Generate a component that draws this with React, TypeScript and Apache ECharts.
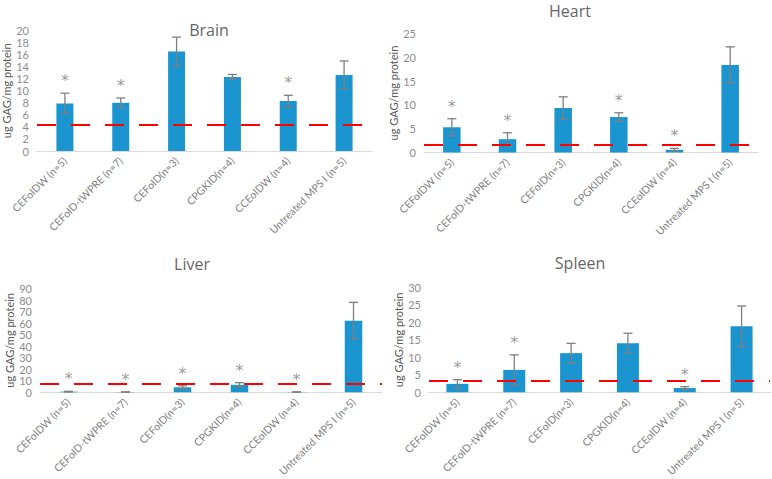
import React, { useEffect, useRef } from "react";
import * as echarts from "echarts";

const categories = [
  "CEFoIDW (n=5)",
  "CEFoID-tWPRE (n=7)",
  "CEFoID(n=3)",
  "CPGKID(n=4)",
  "CCEoIDW (n=4)",
  "Untreated MPS I (n=5)",
];

const panelTitles = ["Brain", "Heart", "Liver", "Spleen"];
const yAxisName = "ug GAG/mg protein";

const brainMean = [7.9, 8.0, 16.5, 12.3, 8.3, 12.6];
const brainErr = [1.7, 0.8, 2.4, 0.4, 0.95, 2.35];
const brainRef = 4.3;
const brainSig = [true, true, false, false, true, false];

const heartMean = [5.3, 2.8, 9.35, 7.45, 0.57, 18.4];
const heartErr = [1.8, 1.35, 2.35, 0.9, 0.3, 3.8];
const heartRef = 1.6;
const heartSig = [true, true, false, true, true, false];

const liverMean = [0.5, 0.2, 4.3, 6.4, 0.2, 62];
const liverErr = [0.3, 0.1, 1.3, 1.9, 0.1, 16];
const liverRef = 7.0;
const liverSig = [true, true, true, true, true, false];

const spleenMean = [2.4, 6.4, 11.2, 14.05, 1.2, 18.9];
const spleenErr = [1.2, 4.3, 2.8, 2.85, 0.4, 5.8];
const spleenRef = 3.35;
const spleenSig = [true, true, false, false, true, false];

const yMax = [20, 25, 90, 30];
const yInterval = [2, 5, 10, 5];

const FONT = "Lato, 'Open Sans', sans-serif";
const BAR = "#1b95d0";
const GREY = "#7f7f7f";

export default function App() {
  const ref = useRef<HTMLDivElement>(null);

  useEffect(() => {
    if (!ref.current) return;
    const chart = echarts.init(ref.current, null, { renderer: "svg" });

    const panels = [
      { mean: brainMean, err: brainErr, refV: brainRef, sig: brainSig },
      { mean: heartMean, err: heartErr, refV: heartRef, sig: heartSig },
      { mean: liverMean, err: liverErr, refV: liverRef, sig: liverSig },
      { mean: spleenMean, err: spleenErr, refV: spleenRef, sig: spleenSig },
    ];

    const grids = [
      { left: 37, right: 400, top: 30.5, bottom: 328 },
      { left: 424, right: 14, top: 33.5, bottom: 326.5 },
      { left: 40, right: 390, top: 288.5, bottom: 80.5 },
      { left: 429, right: 2, top: 287.5, bottom: 81 },
    ];
    const titlePos = [
      { left: 209, top: 22 },
      { left: 570, top: 3 },
      { left: 192, top: 256 },
      { left: 580, top: 255 },
    ];
    const nameGaps = [20, 21, 21, 23];
    const barWidths = [17, 17.5, 17.5, 22];

    const errRender = (params: any, api: any) => {
      const x = api.value(0);
      const lo = api.value(1);
      const hi = api.value(2);
      const pLo = api.coord([x, lo]);
      const pHi = api.coord([x, hi]);
      const w = 4.5;
      const style = { stroke: GREY, lineWidth: 1.3 };
      return {
        type: "group",
        children: [
          { type: "line", shape: { x1: pHi[0], y1: pHi[1], x2: pLo[0], y2: pLo[1] }, style },
          { type: "line", shape: { x1: pHi[0] - w, y1: pHi[1], x2: pHi[0] + w, y2: pHi[1] }, style },
          { type: "line", shape: { x1: pLo[0] - w, y1: pLo[1], x2: pLo[0] + w, y2: pLo[1] }, style },
        ],
      };
    };

    const series: any[] = [];
    panels.forEach((p, k) => {
      series.push({
        type: "bar",
        xAxisIndex: k,
        yAxisIndex: k,
        data: p.mean,
        barWidth: barWidths[k],
        itemStyle: { color: BAR },
        z: 2,
        markLine: {
          silent: true,
          symbol: ["none", "none"],
          label: { show: false },
          lineStyle: { color: "#ff0000", width: 2, type: [19, 15] },
          data: [{ yAxis: p.refV }],
          z: 5,
        },
      });
      series.push({
        type: "custom",
        xAxisIndex: k,
        yAxisIndex: k,
        renderItem: errRender,
        data: p.mean.map((m, i) => [i, m - p.err[i], m + p.err[i]]),
        z: 4,
      });
      series.push({
        type: "scatter",
        xAxisIndex: k,
        yAxisIndex: k,
        symbolSize: 1,
        itemStyle: { color: "rgba(0,0,0,0)" },
        data: p.mean
          .map((m, i) => (p.sig[i] ? [i, m + p.err[i]] : null))
          .filter((d) => d !== null),
        label: {
          show: true,
          formatter: "*",
          position: "top",
          distance: 4,
          fontSize: 16,
          lineHeight: 16,
          color: GREY,
          fontFamily: "'DejaVu Sans', sans-serif",
        },
        z: 6,
      });
    });

    const option: any = {
      animation: false,
      backgroundColor: "#ffffff",
      title: panelTitles.map((t, k) => ({
        text: t,
        left: titlePos[k].left,
        top: titlePos[k].top,
        padding: 0,
        textAlign: "center",
        textStyle: {
          fontSize: 16,
          lineHeight: 16,
          fontWeight: 400,
          color: "#666666",
          fontFamily: "'Open Sans', sans-serif",
        },
      })),
      grid: grids,
      xAxis: grids.map((_, k) => ({
        type: "category",
        gridIndex: k,
        data: categories,
        axisLine: { lineStyle: { color: "#d9d9d9", width: 1 } },
        axisTick: { show: false },
        axisLabel: {
          rotate: 45,
          interval: 0,
          fontSize: 10.5,
          color: "#808080",
          fontFamily: FONT,
          margin: 8,
        },
      })),
      yAxis: grids.map((_, k) => ({
        type: "value",
        gridIndex: k,
        min: 0,
        max: yMax[k],
        interval: yInterval[k],
        name: yAxisName,
        nameLocation: "middle",
        nameGap: nameGaps[k],
        nameTextStyle: { fontSize: 11, color: "#595959", fontFamily: FONT },
        axisLine: { show: false },
        axisTick: { show: false },
        splitLine: { show: false },
        axisLabel: { fontSize: 11, color: "#8c8c8c", fontFamily: FONT, margin: 8 },
      })),
      series,
    };

    chart.setOption(option);
    return () => chart.dispose();
  }, []);

  return <div ref={ref} style={{ width: 772, height: 479, position: "absolute", left: 0, top: 0 }} />;
}
